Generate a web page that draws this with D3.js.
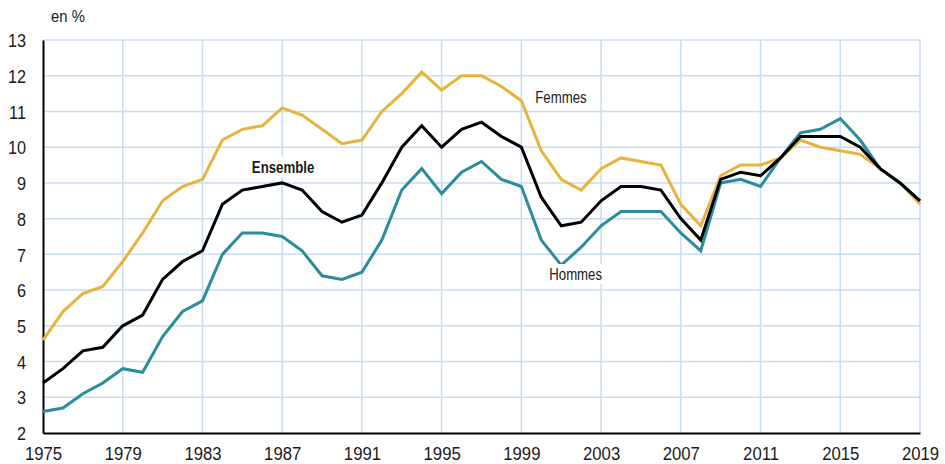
<!DOCTYPE html>
<html><head><meta charset="utf-8">
<script src="https://cdn.jsdelivr.net/npm/d3@7"></script>
<style>
body{margin:0;background:#fff;}
text{font-family:"Liberation Sans",Arial,sans-serif;}
</style></head><body>
<svg id="c" width="945" height="464"></svg>
<script>
const years = d3.range(1975, 2020);
const femmes = [4.6,5.4,5.9,6.1,6.8,7.6,8.5,8.9,9.1,10.2,10.5,10.6,11.1,10.9,10.5,10.1,10.2,11.0,11.5,12.1,11.6,12.0,12.0,11.7,11.3,9.9,9.1,8.8,9.4,9.7,9.6,9.5,8.4,7.8,9.2,9.5,9.5,9.7,10.2,10.0,9.9,9.8,9.4,9.0,8.4];
const ensemble = [3.4,3.8,4.3,4.4,5.0,5.3,6.3,6.8,7.1,8.4,8.8,8.9,9.0,8.8,8.2,7.9,8.1,9.0,10.0,10.6,10.0,10.5,10.7,10.3,10.0,8.6,7.8,7.9,8.5,8.9,8.9,8.8,8.0,7.4,9.1,9.3,9.2,9.7,10.3,10.3,10.3,10.0,9.4,9.0,8.5];
const hommes = [2.6,2.7,3.1,3.4,3.8,3.7,4.7,5.4,5.7,7.0,7.6,7.6,7.5,7.1,6.4,6.3,6.5,7.4,8.8,9.4,8.7,9.3,9.6,9.1,8.9,7.4,6.7,7.2,7.8,8.2,8.2,8.2,7.6,7.1,9.0,9.1,8.9,9.7,10.4,10.5,10.8,10.2,9.4,9.0,8.5];
const xTicks = [1975,1979,1983,1987,1991,1995,1999,2003,2007,2011,2015,2019];
const yTicks = [2,3,4,5,6,7,8,9,10,11,12,13];
const unitLabel = "en %";

const SX = 0.8;   // condensing for series labels
const TSX = 0.88; // condensing for tick labels
const svg = d3.select("#c");
const x = d3.scaleLinear().domain([1975,2019]).range([43,920]);
const y = d3.scaleLinear().domain([2,13]).range([433,40]);
const grid = "#c8dcf2";

svg.append("g").selectAll("line").data(yTicks.filter(d=>d>2)).join("line")
  .attr("x1",x(1975)).attr("x2",x(2019)).attr("y1",d=>y(d)).attr("y2",d=>y(d))
  .attr("stroke",grid).attr("stroke-width",1.5);
svg.append("g").selectAll("line").data(xTicks.slice(1)).join("line")
  .attr("x1",d=>x(d)).attr("x2",d=>x(d)).attr("y1",y(13)).attr("y2",y(2))
  .attr("stroke",grid).attr("stroke-width",1.5);

const yAxis = svg.append("g").attr("transform",`translate(${x(1975)},0)`)
  .call(d3.axisLeft(y).tickValues(yTicks).tickSize(0));
yAxis.select(".domain").attr("stroke","#000").attr("stroke-width",2);
yAxis.selectAll("text").attr("font-size",18.5).attr("fill","#1a1a1a")
  .attr("x",-17/TSX).attr("dy","0.36em").attr("transform",`scale(${TSX},1)`);

const xAxis = svg.append("g").attr("transform",`translate(0,${y(2)})`)
  .call(d3.axisBottom(x).tickValues(xTicks).tickFormat(d3.format("d")).tickSize(0));
xAxis.select(".domain").attr("stroke","#000").attr("stroke-width",2);
xAxis.selectAll("text").attr("font-size",19).attr("fill","#1a1a1a")
  .attr("y",27).attr("dy",0).attr("transform",`scale(${TSX},1)`);

const line = d3.line().x((d,i)=>x(years[i])).y(d=>y(d));
const series = [
  {vals: femmes, color:"#e6b43c"},
  {vals: hommes, color:"#2b8c9a"},
  {vals: ensemble, color:"#000000"}
];
svg.append("g").selectAll("path").data(series).join("path")
  .attr("d",d=>line(d.vals)).attr("fill","none")
  .attr("stroke",d=>d.color).attr("stroke-width",3).attr("stroke-linejoin","miter");

function condensed(sel, ax, ay, s){
  sel.attr("transform",`translate(${ax},${ay}) scale(${s},1) translate(${-ax},${-ay})`);
}
const labels = [
  {t:"Ensemble", year:1985.48, v:9.45, bold:true},
  {t:"Femmes", year:1999.7, v:11.41, bold:false},
  {t:"Hommes", year:2000.4, v:6.45, bold:false}
];
const lg = svg.append("g");
labels.forEach(l=>{
  const g = lg.append("g");
  const ax = x(l.year), ay = y(l.v);
  g.append("rect").attr("x",ax-3).attr("y",ay-10).attr("height",20).attr("fill","#fff");
  const tx = g.append("text").attr("x",ax).attr("y",ay).attr("dy","0.36em").attr("text-anchor","start")
    .attr("font-size",16.5).attr("font-weight",l.bold?"bold":"normal")
    .attr("fill","#1a1a1a").text(l.t);
  condensed(tx, ax, ay, SX);
  const w = tx.node().getBBox().width*SX;
  g.select("rect").attr("width",w+6);
});

const ut = svg.append("text").attr("x",51).attr("y",22).attr("font-size",16.5).attr("fill","#1a1a1a").text(unitLabel);
condensed(ut, 51, 22, 0.9);
</script></body></html>
